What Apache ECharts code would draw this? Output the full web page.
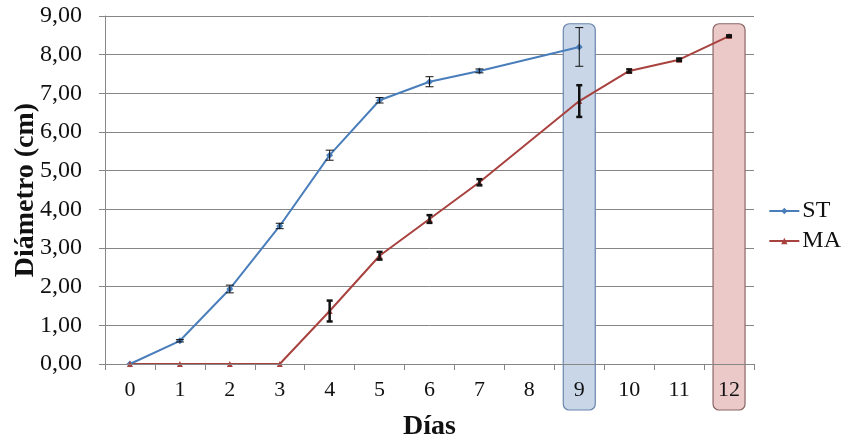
<!DOCTYPE html>
<html><head><meta charset="utf-8">
<script src="https://cdn.jsdelivr.net/npm/echarts@6/dist/echarts.min.js"></script>
<style>html,body{margin:0;padding:0;background:#fff}#c{width:848px;height:441px}</style>
</head><body><div id="c"></div>
<script>
var categories = ['0','1','2','3','4','5','6','7','8','9','10','11','12'];
var stValues = [0, 0.6, 1.94, 3.57, 5.4, 6.82, 7.3, 7.58, null, 8.2, null, null, null];
var stErr    = [0, 0.03, 0.1, 0.07, 0.13, 0.07, 0.13, 0.05, null, 0.5, null, null, null];
var maValues = [0, 0, 0, 0, 1.37, 2.8, 3.75, 4.7, null, 6.8, 7.58, 7.87, 8.48];
var maErr    = [0, 0, 0, 0, 0.27, 0.1, 0.1, 0.08, null, 0.41, 0.04, 0.03, 0.02];
var yTicks = [0,1,2,3,4,5,6,7,8,9];
var highlights = [{cat: 9, fill: '#c8d6e8', stroke: '#6a86ad'}, {cat: 12, fill: '#ecc9c9', stroke: '#8a6767'}];

function errData(vals, errs){
  var out = [];
  for (var i = 0; i < vals.length; i++) {
    if (vals[i] != null && errs[i]) out.push([i, vals[i] - errs[i], vals[i] + errs[i]]);
  }
  return out;
}
function errRender(lw, capW){
  return function(params, api){
    var x = api.value(0);
    var lo = api.coord([x, api.value(1)]);
    var hi = api.coord([x, api.value(2)]);
    var st = {stroke: '#111', lineWidth: lw};
    return {type: 'group', children: [
      {type: 'line', shape: {x1: lo[0], y1: lo[1], x2: hi[0], y2: hi[1]}, style: st},
      {type: 'line', shape: {x1: lo[0]-capW, y1: lo[1], x2: lo[0]+capW, y2: lo[1]}, style: st},
      {type: 'line', shape: {x1: hi[0]-capW, y1: hi[1], x2: hi[0]+capW, y2: hi[1]}, style: st}
    ]};
  };
}
var serif = '"Liberation Serif","Times New Roman",serif';
var chart = echarts.init(document.getElementById('c'));
var option = {
  animation: false,
  grid: {left: 105, right: 94, top: 16, bottom: 77, containLabel: false, outerBoundsMode: 'none'},
  legend: {
    orient: 'vertical', right: 2, top: 194, itemGap: 6, itemWidth: 30, itemHeight: 8,
    textStyle: {fontFamily: serif, fontSize: 24, color: '#111', padding: [0, 0, 0, -2]},
    data: ['ST', 'MA']
  },
  xAxis: {
    type: 'category', data: categories, boundaryGap: true, z: 5,
    name: 'Días', nameLocation: 'middle', nameGap: 49, nameMoveOverlap: false,
    nameTextStyle: {fontFamily: serif, fontSize: 28, fontWeight: 'bold', color: '#111'},
    axisLine: {lineStyle: {color: '#868686', width: 1}},
    axisTick: {show: true, alignWithLabel: false, length: 6, lineStyle: {color: '#868686'}},
    axisLabel: {fontFamily: serif, fontSize: 22, color: '#111', margin: 15},
    splitLine: {show: false}
  },
  yAxis: {
    type: 'value', min: 0, max: 9, interval: 1,
    name: 'Diámetro (cm)', nameLocation: 'middle', nameGap: 65, nameRotate: 90, nameMoveOverlap: false,
    nameTextStyle: {fontFamily: serif, fontSize: 28, fontWeight: 'bold', color: '#111'},
    axisLine: {show: true, lineStyle: {color: '#868686'}},
    axisTick: {show: true, length: 6, lineStyle: {color: '#868686'}},
    axisLabel: {fontFamily: serif, fontSize: 24, color: '#111', margin: 23,
      formatter: function(v){ return v.toFixed(2).replace('.', ','); }},
    splitLine: {show: true, lineStyle: {color: '#868686', width: 1}}
  },
  series: [
    {name: 'ST', type: 'line', data: stValues, connectNulls: true, z: 3,
     symbol: 'diamond', symbolSize: 7, lineStyle: {color: '#4a7ebb', width: 2},
     itemStyle: {color: '#4a7ebb'}},
    {name: 'MA', type: 'line', data: maValues, connectNulls: true, z: 3,
     symbol: 'triangle', symbolSize: 6, lineStyle: {color: '#a8423f', width: 2},
     itemStyle: {color: '#a8423f'}},
    {name: 'stErr', type: 'custom', data: errData(stValues, stErr), renderItem: errRender(1, 4), z: 4,
     encode: {x: 0, y: [1, 2]}},
    {name: 'maErr', type: 'custom', data: errData(maValues, maErr), renderItem: errRender(2.5, 3), z: 4,
     encode: {x: 0, y: [1, 2]}}
  ]
};
chart.setOption(option);
var gfx = highlights.map(function(h){
  var top = chart.convertToPixel({xAxisIndex: 0, yAxisIndex: 0}, [h.cat, 8.8]);
  var bot = chart.convertToPixel({xAxisIndex: 0, yAxisIndex: 0}, [h.cat, 0]);
  return {type: 'rect', z: 1, zlevel: 0,
    shape: {x: top[0] - 16, y: top[1], width: 32, height: bot[1] + 46 - top[1], r: 6},
    style: {fill: h.fill, stroke: h.stroke, lineWidth: 1.2}};
});
chart.setOption({graphic: gfx});
</script></body></html>
